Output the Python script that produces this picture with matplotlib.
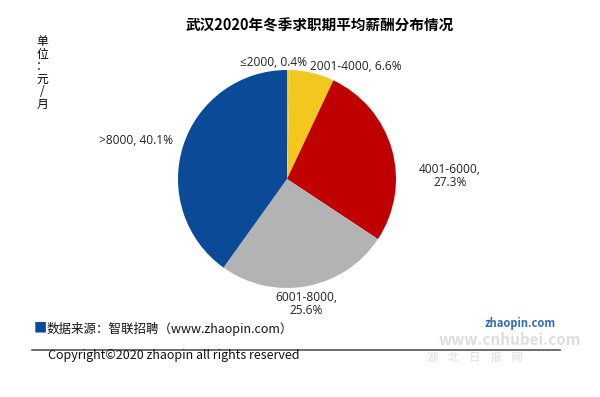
import matplotlib
matplotlib.use("Agg")
import matplotlib.pyplot as plt
from matplotlib.lines import Line2D

plt.rcParams['font.family'] = ['Noto Sans CJK SC', 'DejaVu Sans']

categories = ["≤2000", "2001-4000", "4001-6000", "6001-8000", ">8000"]
values = [0.4, 6.6, 27.3, 25.6, 40.1]
colors = ["#F2C81E", "#F2C81E", "#C00000", "#B3B3B3", "#0B4A97"]
label_texts = ["≤2000, 0.4%", "2001-4000, 6.6%", "4001-6000,\n27.3%",
               "6001-8000,\n25.6%", ">8000, 40.1%"]
label_pos = [(274, 62), (356, 67), (450, 176), (306, 304), (136, 141)]

LATIN = ['Open Sans', 'DejaVu Sans']

W, H = 600, 397
fig = plt.figure(figsize=(6, 3.97), dpi=100)
fig.patch.set_facecolor("white")

cx, cy, r = 287, 179, 109
ax = fig.add_axes([(cx - r) / W, 1 - (cy + r) / H, 2 * r / W, 2 * r / H])
ax.pie(values, colors=colors, startangle=90, counterclock=False,
       wedgeprops=dict(linewidth=0))
ax.set_xlim(-1, 1)
ax.set_ylim(-1, 1)
ax.set_aspect("auto")
ax.axis("off")

for t, (x, y) in zip(label_texts, label_pos):
    fig.text(x / W, 1 - y / H, t, ha="center", va="center", fontsize=8.6,
             color="#222222", linespacing=1.05, family=LATIN)

fig.text(320 / W, 1 - 25 / H, "武汉2020年冬季求职期平均薪酬分布情况",
         ha="center", va="center", fontsize=10.5, fontweight="bold")

fig.text(42 / W, 1 - 73 / H, "\n".join("单位：元/月"), ha="center", va="center",
         fontsize=8.5, linespacing=0.95)

fig.text(34 / W, 1 - 329 / H, "■", ha="left", va="center", fontsize=9.5,
         color="#0B4A97")
fig.text(47 / W, 1 - 329 / H, "数据来源：智联招聘（www.zhaopin.com）",
         ha="left", va="center", fontsize=9, color="#111111")

fig.add_artist(Line2D([32 / W, 560 / W], [1 - 350 / H, 1 - 350 / H],
                      color="#555555", linewidth=1.2))
fig.text(48 / W, 1 - 355 / H, "Copyright©2020 zhaopin all rights reserved",
         ha="left", va="center", fontsize=9, color="#111111")

# watermark
fig.text(510 / W, 1 - 340 / H, "www.cnhubei.com", ha="center", va="center",
         fontsize=11, color="#DDDDDD", fontweight="bold")
fig.text(475 / W, 1 - 358 / H, "湖    北    日    报    网", ha="center",
         va="center", fontsize=8, color="#DDDDDD")
fig.text(520 / W, 1 - 323 / H, "zhaopin.com", ha="center", va="center",
         fontsize=8, color="#2F6EB5", fontweight="bold", style="italic")

fig.savefig("out.png", dpi=100, facecolor="white")
